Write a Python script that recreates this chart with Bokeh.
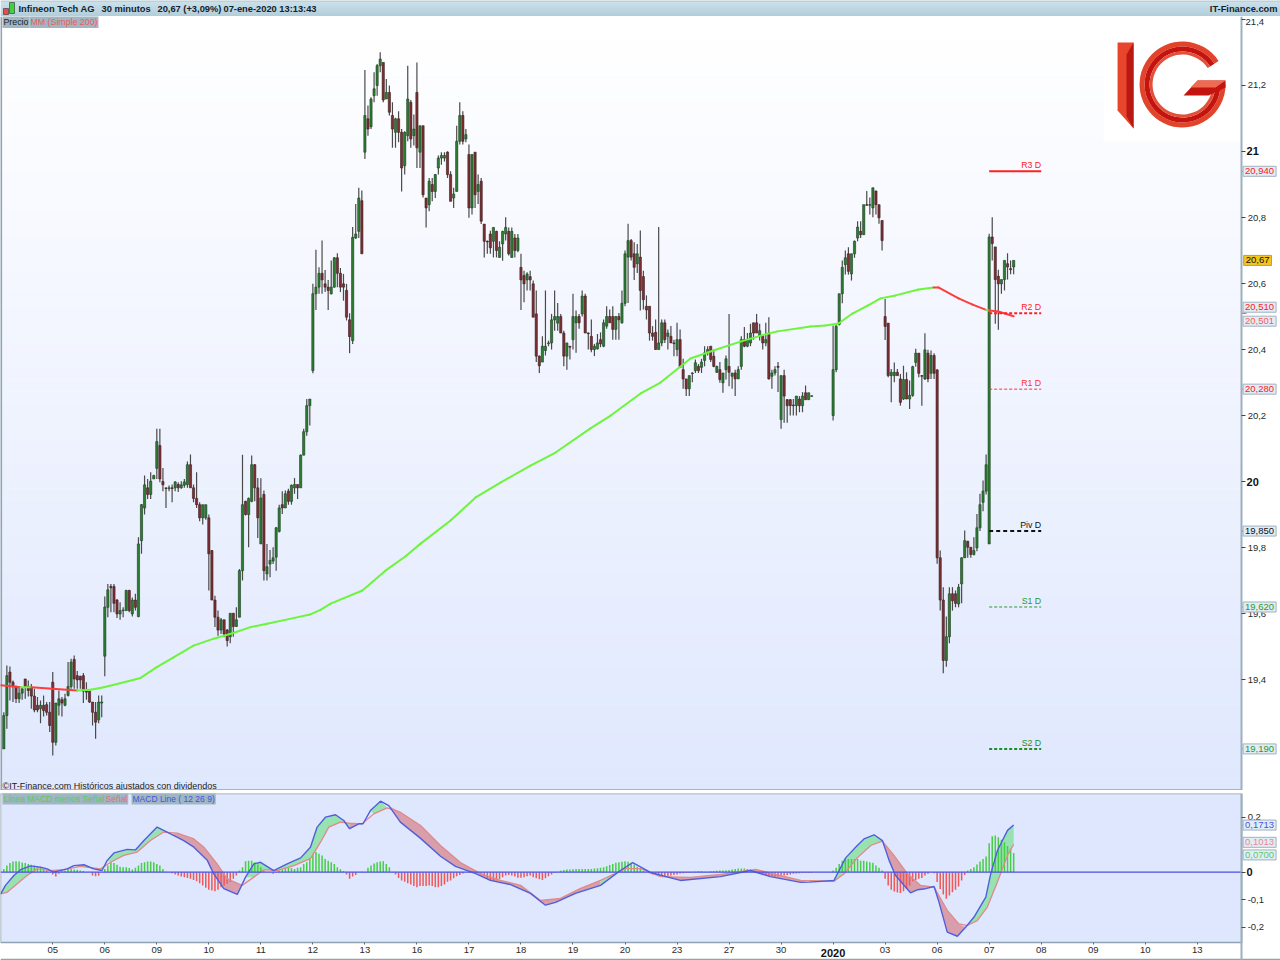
import numpy as np
from bokeh.embed import file_html
from bokeh.resources import INLINE
from bokeh.plotting import figure
from bokeh.layouts import column
from bokeh.models import ColumnDataSource, Label, FixedTicker, Range1d
from bokeh.core.properties import value

# ---------- price bars (bar number, 17 bars per session) ----------
bar_numbers = list(range(265)) + list(range(271, 331))
highs = [
19.301,19.443,19.440,19.397,19.382,19.379,19.377,19.402,19.397,19.387,
19.372,19.347,19.337,19.352,19.332,19.332,19.423,19.329,19.367,19.347,
19.357,19.453,19.463,19.473,19.426,19.412,19.420,19.392,19.365,19.332,
19.332,19.352,19.352,19.652,19.690,19.690,19.690,19.644,19.634,19.619,
19.672,19.672,19.649,19.660,19.831,19.932,20.018,20.008,20.028,20.021,
20.160,20.160,20.041,19.981,19.988,19.991,20.001,19.998,20.001,20.008,
20.061,20.082,19.991,20.028,19.937,19.930,19.930,19.900,19.793,19.654,
19.609,19.587,19.581,19.553,19.601,19.601,19.619,19.735,20.081,19.942,
19.952,20.079,20.053,20.011,20.010,19.973,19.811,19.793,19.801,19.862,
19.930,19.971,19.973,19.978,19.991,20.011,19.991,20.082,20.160,20.250,
20.250,20.599,20.702,20.649,20.730,20.641,20.611,20.670,20.680,20.692,
20.647,20.629,20.599,20.510,20.771,20.841,20.890,20.882,21.247,21.139,
21.164,21.240,21.265,21.301,21.270,21.220,21.200,21.149,21.102,21.122,
21.068,21.061,21.260,21.156,21.112,21.270,21.078,21.078,20.859,20.920,
20.920,20.932,20.988,20.998,20.998,21.001,20.940,20.890,21.078,21.149,
21.122,21.068,21.021,20.991,20.998,20.930,20.920,20.780,20.730,20.760,
20.770,20.760,20.728,20.760,20.801,20.770,20.770,20.750,20.750,20.690,
20.639,20.634,20.639,20.609,20.579,20.382,20.440,20.579,20.427,20.508,
20.579,20.541,20.508,20.457,20.420,20.410,20.569,20.518,20.508,20.579,
20.569,20.452,20.491,20.417,20.447,20.452,20.491,20.531,20.521,20.531,
20.501,20.511,20.579,20.700,20.781,20.735,20.725,20.720,20.761,20.639,
20.564,20.531,20.471,20.491,20.771,20.491,20.491,20.461,20.471,20.430,
20.481,20.461,20.372,20.311,20.321,20.331,20.370,20.356,20.372,20.410,
20.410,20.410,20.400,20.351,20.362,20.329,20.382,20.508,20.329,20.339,
20.349,20.440,20.468,20.450,20.478,20.481,20.508,20.478,20.440,20.481,
20.498,20.339,20.349,20.362,20.321,20.339,20.250,20.250,20.250,20.259,
20.259,20.271,20.291,20.269,20.261,
20.473,20.476,20.569,20.670,20.700,20.710,20.690,20.730,20.789,
20.789,20.839,20.880,20.861,20.890,20.882,20.839,20.791,20.553,20.480,
20.341,20.361,20.341,20.326,20.351,20.331,20.306,20.351,20.402,20.389,
20.323,20.449,20.399,20.397,20.389,20.341,19.791,19.680,19.591,19.680,
19.680,19.670,19.690,19.771,19.852,19.821,19.801,19.831,19.902,19.963,
20.003,20.082,20.751,20.801,20.711,20.642,20.612,20.670,20.692,20.670,20.670]
body_tops = [
19.291,19.412,19.423,19.392,19.379,19.359,19.372,19.402,19.379,19.377,
19.350,19.322,19.322,19.322,19.324,19.301,19.392,19.329,19.342,19.339,
19.342,19.379,19.453,19.461,19.412,19.410,19.412,19.365,19.365,19.332,
19.301,19.332,19.332,19.620,19.672,19.682,19.682,19.641,19.609,19.611,
19.670,19.670,19.641,19.641,19.811,19.930,19.990,19.981,20.001,20.018,
20.121,20.109,20.000,19.981,19.981,19.981,19.999,19.991,19.990,19.999,
20.051,20.051,19.981,19.949,19.930,19.930,19.930,19.890,19.791,19.641,
19.589,19.581,19.581,19.550,19.601,19.601,19.581,19.730,19.930,19.940,
19.949,20.051,20.051,19.981,19.950,19.961,19.742,19.761,19.769,19.860,
19.920,19.930,19.963,19.971,19.989,19.991,19.991,20.080,20.151,20.230,
20.250,20.569,20.589,20.631,20.631,20.599,20.589,20.589,20.678,20.678,
20.631,20.599,20.579,20.490,20.740,20.750,20.859,20.851,21.109,21.099,
21.159,21.190,21.260,21.280,21.270,21.179,21.179,21.109,21.099,21.099,
21.058,21.058,21.159,21.149,21.068,21.179,21.078,21.078,20.859,20.910,
20.900,20.930,20.980,20.988,20.988,20.998,20.930,20.871,21.031,21.109,
21.109,21.051,20.991,20.991,20.998,20.900,20.910,20.780,20.728,20.750,
20.770,20.758,20.710,20.758,20.770,20.758,20.758,20.738,20.738,20.649,
20.624,20.629,20.621,20.599,20.508,20.380,20.410,20.410,20.420,20.490,
20.500,20.500,20.500,20.450,20.420,20.410,20.500,20.500,20.500,20.562,
20.562,20.450,20.440,20.410,20.420,20.430,20.481,20.500,20.500,20.500,
20.500,20.500,20.540,20.690,20.730,20.730,20.690,20.690,20.680,20.621,
20.531,20.531,20.450,20.452,20.420,20.481,20.481,20.450,20.440,20.420,
20.430,20.430,20.339,20.311,20.321,20.329,20.360,20.349,20.362,20.390,
20.400,20.410,20.380,20.349,20.339,20.329,20.372,20.349,20.329,20.329,
20.339,20.430,20.430,20.430,20.450,20.481,20.481,20.457,20.440,20.430,
20.450,20.329,20.339,20.349,20.321,20.321,20.248,20.248,20.232,20.259,
20.250,20.259,20.269,20.269,20.260,
20.339,20.470,20.569,20.649,20.678,20.690,20.690,20.728,20.771,
20.758,20.839,20.839,20.839,20.890,20.880,20.839,20.791,20.500,20.480,
20.331,20.331,20.331,20.311,20.309,20.309,20.261,20.348,20.389,20.389,
20.321,20.399,20.389,20.382,20.382,20.338,19.769,19.641,19.530,19.660,
19.660,19.660,19.680,19.769,19.821,19.819,19.801,19.791,19.860,19.930,
19.971,20.051,20.741,20.741,20.711,20.622,20.612,20.670,20.660,20.645,20.670]
body_bottoms = [
19.190,19.291,19.392,19.379,19.342,19.342,19.359,19.379,19.367,19.350,
19.308,19.308,19.312,19.306,19.301,19.261,19.210,19.210,19.322,19.329,
19.322,19.352,19.379,19.402,19.399,19.399,19.365,19.362,19.332,19.301,
19.271,19.278,19.329,19.471,19.619,19.678,19.631,19.599,19.599,19.609,
19.609,19.609,19.599,19.619,19.591,19.821,19.920,19.961,19.961,20.008,
20.040,20.008,19.990,19.979,19.979,19.979,19.981,19.981,19.981,19.989,
19.991,19.981,19.949,19.930,19.890,19.890,19.890,19.781,19.641,19.589,
19.550,19.550,19.538,19.518,19.530,19.561,19.561,19.589,19.730,19.900,
19.900,19.940,19.981,19.890,19.811,19.730,19.720,19.750,19.759,19.771,
19.849,19.920,19.920,19.940,19.940,19.981,19.981,19.981,20.080,20.151,
20.230,20.336,20.569,20.589,20.611,20.589,20.579,20.569,20.589,20.631,
20.589,20.589,20.498,20.439,20.427,20.738,20.758,20.690,20.998,21.068,
21.075,21.169,21.200,21.260,21.156,21.159,21.119,21.068,21.058,21.058,
20.950,20.957,21.048,21.038,21.048,21.011,20.998,20.869,20.829,20.839,
20.879,20.879,20.950,20.980,20.980,20.930,20.849,20.859,20.879,21.031,
21.031,21.038,20.829,20.829,20.869,20.879,20.789,20.728,20.726,20.708,
20.728,20.700,20.679,20.720,20.750,20.690,20.679,20.700,20.700,20.611,
20.599,20.611,20.611,20.498,20.380,20.351,20.362,20.397,20.418,20.420,
20.490,20.480,20.450,20.380,20.380,20.407,20.430,20.481,20.481,20.508,
20.450,20.448,20.400,20.400,20.402,20.417,20.410,20.471,20.481,20.461,
20.461,20.490,20.481,20.540,20.680,20.680,20.649,20.660,20.579,20.551,
20.520,20.450,20.440,20.400,20.400,20.420,20.430,20.440,20.420,20.418,
20.400,20.346,20.311,20.281,20.281,20.327,20.336,20.336,20.346,20.367,
20.390,20.370,20.349,20.331,20.309,20.299,20.339,20.331,20.319,20.311,
20.311,20.349,20.410,20.410,20.420,20.450,20.450,20.440,20.420,20.420,
20.311,20.319,20.329,20.346,20.188,20.259,20.230,20.230,20.230,20.230,
20.230,20.230,20.248,20.248,20.258,
20.200,20.339,20.476,20.569,20.657,20.637,20.629,20.690,20.738,
20.748,20.748,20.837,20.837,20.829,20.839,20.799,20.730,20.470,20.321,
20.321,20.321,20.321,20.240,20.250,20.250,20.250,20.261,20.361,20.328,
20.319,20.311,20.311,20.328,20.328,19.769,19.641,19.458,19.458,19.530,
19.639,19.631,19.629,19.690,19.769,19.801,19.779,19.779,19.799,19.860,
19.937,19.971,19.811,20.721,20.612,20.599,20.599,20.612,20.650,20.642,20.650]
lows = [
19.190,19.251,19.337,19.332,19.329,19.329,19.339,19.342,19.349,19.312,
19.301,19.301,19.268,19.288,19.291,19.241,19.170,19.200,19.291,19.288,
19.319,19.349,19.372,19.372,19.372,19.372,19.329,19.339,19.329,19.261,
19.221,19.268,19.286,19.410,19.589,19.604,19.604,19.587,19.581,19.589,
19.609,19.604,19.591,19.609,19.589,19.781,19.900,19.947,19.947,20.008,
20.008,19.998,19.971,19.920,19.971,19.937,19.971,19.968,19.978,19.981,
19.981,19.981,19.937,19.920,19.880,19.870,19.884,19.670,19.641,19.559,
19.533,19.538,19.528,19.500,19.510,19.530,19.559,19.589,19.700,19.897,
19.801,19.937,19.940,19.829,19.811,19.700,19.700,19.710,19.750,19.730,
19.846,19.902,19.920,19.930,19.930,19.963,19.947,19.981,20.080,20.139,
20.170,20.328,20.520,20.569,20.569,20.574,20.520,20.567,20.587,20.589,
20.574,20.548,20.488,20.389,20.417,20.735,20.738,20.690,20.977,21.048,
21.068,21.149,21.169,21.240,21.149,21.159,21.109,21.011,21.011,21.028,
20.879,20.930,21.031,21.011,21.018,20.950,20.950,20.861,20.770,20.819,
20.849,20.859,20.930,20.960,20.970,20.920,20.849,20.829,20.879,21.021,
21.021,21.028,20.799,20.809,20.829,20.841,20.780,20.679,20.690,20.690,
20.679,20.679,20.679,20.669,20.730,20.685,20.679,20.679,20.695,20.520,
20.543,20.579,20.579,20.498,20.362,20.329,20.362,20.382,20.410,20.400,
20.457,20.457,20.450,20.349,20.339,20.370,20.400,20.390,20.463,20.500,
20.450,20.400,20.392,20.380,20.400,20.407,20.407,20.463,20.481,20.430,
20.430,20.430,20.478,20.531,20.541,20.670,20.611,20.632,20.518,20.521,
20.491,20.427,20.427,20.400,20.400,20.410,20.420,20.400,20.420,20.380,
20.380,20.346,20.281,20.259,20.259,20.301,20.329,20.329,20.329,20.349,
20.382,20.362,20.346,20.329,20.299,20.269,20.309,20.289,20.281,20.259,
20.311,20.339,20.407,20.407,20.410,20.430,20.450,20.427,20.400,20.410,
20.309,20.281,20.321,20.271,20.160,20.178,20.178,20.200,20.200,20.200,
20.210,20.210,20.248,20.248,20.258,
20.185,20.331,20.473,20.540,20.627,20.627,20.609,20.678,20.728,
20.738,20.748,20.836,20.809,20.801,20.809,20.781,20.700,20.429,20.316,
20.240,20.301,20.321,20.230,20.247,20.250,20.220,20.257,20.348,20.316,
20.230,20.308,20.301,20.311,20.311,19.751,19.609,19.419,19.439,19.510,
19.609,19.619,19.619,19.631,19.769,19.769,19.769,19.776,19.789,19.850,
19.910,19.961,19.811,20.670,20.478,20.460,20.569,20.579,20.612,20.628,20.628]
directions = (
"UUDDDUUDDD" "DDUDDDDUUD" "UUUDDDDDDD" "DUUUUDDDUU" "UDUDUUUDUU"
"UDDDUDUDUU" "UDDDDUUDDD" "DUDDUDUUUD" "UUDDUDUUUU" "UDUDUUDUUU"
"UUUUDDDUUD" "DDDDUUUDUD" "UUUUDUDDUD" "DUUDUDUDDU" "DUUUUDDUUU"
"DUDUDUDDDD" "UDUUUDUDUD" "DUDDDDUUUU" "UUDDUDUUDU" "DDDUUDUUDD"
"UDUUUDDUDD" "DDDDUUDUDD" "UDDDUUUDUU" "UDDUDUUDUD" "UUDUUDDUDU"
"DUUDUDDDDU" "DUDUU"
"UUUUUDUUU" "DUDUUDDDDD" "UUDDUDUUUD" "DUDUDDDDUU" "DDUUUDDUUU" "UUUDDDUUDDU")

# ---------- moving average (Simple 200), read at these bars ----------
ma_bars = [-1,5.5,9,24,28.3,32.7,38,44.7,50,55.6,62,68.6,75,80.6,86,95,100,103.5,106.8,117.2,124.7,131.2,
           136.2,146,154.2,162.3,172.1,180.3,191.7,198.3,208.1,214.6,224.4,231.9,240.7,249.6,252.8,263.6,
           268.5,272.8,277.3,282.3,286.5,291.4,298.9,303.8,305.4,312,316.6,321,322,325,330]
ma_values = [19.383,19.377,19.377,19.367,19.369,19.377,19.389,19.405,19.438,19.468,19.503,19.524,19.541,
             19.559,19.569,19.587,19.597,19.611,19.630,19.670,19.730,19.773,19.812,19.882,19.952,19.997,
             20.048,20.088,20.161,20.200,20.267,20.300,20.373,20.397,20.424,20.448,20.455,20.470,20.473,
             20.479,20.509,20.533,20.555,20.564,20.582,20.588,20.588,20.555,20.536,20.520,20.518,20.515,20.501]
ma_segment_up = [0,1,0] + [1] * 42 + [0,0,0,0,1,0,0]

# ---------- daily pivot levels ----------
pivot_names = ["R3 D", "R2 D", "R1 D", "Piv D", "S1 D", "S2 D"]
pivot_values = [20.94, 20.51, 20.28, 19.85, 19.62, 19.19]
pivot_colors = ["#ff2020", "#ff2020", "#ff3030", "#111111", "#2a9a2a", "#1f8f1f"]
pivot_widths = [2, 2, 1, 2, 1, 2]
pivot_dashes = ["solid", "3 2", "3 2", "4 3", "3 2", "3 2"]

# ---------- MACD panel ----------
macd_bars = [-1,0.55,3.3,5.5,8.7,12,14.2,16.3,20.7,22.9,26.2,29.4,32.1,33.8,36,40.3,43,45.8,50.1,54.5,58.8,62.1,
             66.5,68.6,71.9,76.3,79,81.7,83.9,88.2,92.6,97,100.2,102.4,105.1,108.4,111.1,113,116,117.4,119.8,
             123.1,125.8,129.6,136.2,142.7,147.6,154.2,159,165.6,172.1,177,180.3,186.8,195,201.5,205.5,211.3,
             221.1,234.2,244,250.5,260.4,263.1,271.3,275.1,278.9,281.1,284.4,287.1,289.3,291.4,296.3,298.5,
             301.2,304,305.6,308.3,311.6,314.3,317,320.9,322.5,324.7,328,330]
macd_line = [-0.079,-0.048,-0.012,0.009,0.023,0.018,0.012,0.000,0.012,0.024,0.027,0.012,0.006,0.043,0.070,0.083,
             0.081,0.115,0.164,0.139,0.115,0.091,0.043,-0.006,-0.060,-0.081,-0.018,0.030,0.036,0.006,0.030,0.052,
             0.091,0.164,0.200,0.209,0.188,0.158,0.176,0.176,0.224,0.258,0.242,0.182,0.123,0.058,0.021,-0.005,
             -0.030,-0.045,-0.077,-0.120,-0.110,-0.077,-0.048,0.006,0.035,-0.001,-0.030,-0.016,0.006,-0.016,-0.037,
             -0.036,-0.030,0.052,0.097,0.121,0.136,0.115,0.043,-0.012,-0.075,-0.064,-0.060,-0.052,-0.109,-0.218,
             -0.233,-0.200,-0.164,-0.091,-0.006,0.079,0.152,0.1713]
signal_bars = [-1,1.1,4.4,7.6,10.9,15.3,19.6,25.1,31.6,34.9,39.2,43.6,47.9,52.3,56.7,62.1,65.4,69.7,73,77.9,81.7,
               85,89.3,94.8,100.2,103.5,106.2,110,113,117.1,120.9,125.3,129.6,136.2,142.7,149.2,155.8,162.3,
               168.9,175.4,181.9,188.5,195,203.2,208.1,214.6,224.4,234.2,245.7,252.2,260.4,271.3,274.6,278.9,
               283.3,287.1,290.9,295.3,299.6,304,308.3,312.1,314.9,318.1,321.4,324.7,328,330]
signal_line = [-0.079,-0.073,-0.042,-0.012,0.012,0.006,0.009,0.021,0.012,0.036,0.061,0.073,0.115,0.146,0.142,0.121,
               0.091,0.030,-0.024,-0.048,-0.018,0.009,0.006,0.024,0.049,0.109,0.164,0.182,0.178,0.176,0.212,0.234,
               0.218,0.170,0.097,0.035,-0.005,-0.030,-0.048,-0.103,-0.095,-0.059,-0.030,0.013,0.013,-0.016,-0.019,
               -0.008,0.010,-0.008,-0.030,-0.033,-0.006,0.052,0.097,0.113,0.061,-0.006,-0.048,-0.054,-0.139,-0.188,
               -0.194,-0.176,-0.127,-0.036,0.061,0.1013]
band_from = [-1,11,21,33,54.5,78.5,113,118,125.5,195,208,271,287.1,314.5]
band_to = [11,21,33,54.5,78.5,113,118,125.5,195,208,271,287.1,314.5,330]
band_macd_above = [1,0,1,1,0,1,0,1,0,1,0,1,0,1]
histogram = [
.012,.024,.033,.039,.04,.039,.035,.033,.03,.027,.024,.02,.018,.012,.006,0,-.008,-.016,-.006,.004,
.006,.012,.012,.01,.009,.006,.004,0,0,-.012,-.015,-.013,0,.012,.024,.036,.033,.027,.02,.018,
.018,.015,.01,.016,.024,.033,.036,.039,.039,.036,.03,.024,.012,.002,0,-.004,-.008,-.012,-.016,-.018,
-.021,-.024,-.028,-.033,-.04,-.048,-.057,-.064,-.067,-.069,-.064,-.055,-.048,-.042,-.036,-.024,-.012,.006,.018,.04,
.042,.042,.036,.028,.018,.006,.002,0,-.006,0,.006,.01,.016,.017,.015,.012,.016,.018,.03,.036,
.052,.067,.073,.067,.061,.048,.042,.036,.03,.018,.011,.004,-.008,-.024,-.016,-.01,0,.002,-.002,.016,
.024,.032,.036,.039,.04,.03,.018,.002,-.008,-.021,-.03,-.035,-.04,-.045,-.05,-.055,-.05,-.05,-.05,-.048,
-.05,-.055,-.055,-.05,-.045,-.035,-.03,-.022,-.015,-.01,-.005,
0,.002,.003,.001,-.003,-.008,-.014,-.022,-.028,-.032,-.03,-.025,-.018,-.012,-.01,-.012,-.016,-.02,-.02,-.018,
-.015,-.012,-.018,-.022,-.026,-.028,-.022,-.015,-.008,-.003,.002,.005,.008,.01,.01,.011,.012,.012,.012,.012,
.012,.012,.013,.014,.016,.018,.022,.026,.03,.034,.036,.038,.04,.038,.034,.028,.02,.012,.005,0,
-.004,-.008,-.01,-.012,-.014,-.015,-.014,-.012,-.01,-.008,-.005,-.004,-.003,-.002,.001,.002,.003,.003,.002,.002,
.003,.004,.005,.006,.006,.007,.008,.01,.012,.013,.013,.013,.012,.01,.006,.003,-.002,-.006,-.01,-.012,
-.014,-.016,-.016,-.014,-.012,-.01,-.008,-.006,-.005,-.004,-.003,-.003,-.003,-.002,
.006,.016,.03,.042,.048,.048,.048,.048,.048,.042,.042,.039,.036,.034,.024,.016,.006,
-.024,-.048,-.064,-.07,-.074,-.076,-.069,-.061,-.048,-.033,-.028,-.024,-.021,-.012,-.006,0,-.004,
-.036,-.061,-.081,-.097,-.085,-.073,-.064,-.052,-.03,-.01,.006,.012,.018,.028,.039,.048,.057,
.105,.131,.133,.127,.118,.109,.095,.085,.07]

# ---------- texts ----------
price_ticks = [19.4, 19.6, 19.8, 20, 20.2, 20.4, 20.6, 20.8, 21, 21.2, 21.4]
macd_ticks = [-0.2, -0.1, 0, 0.2]
session_labels = ["05","06","09","10","11","12","13","16","17","18","19","20","23","27","30","2020","03","06","07","08","09","10","13"]
session_bars = [16,33,50,67,84,101,118,135,152,169,186,203,220,237,254,271,288,305,322,339,356,373,390]

FONT = "Liberation Sans"
AXIS_COLOR = "#9db0bb"
EDGE = "#8fa4b0"
TEXT_COLOR = "#2a2a2a"
LEGEND_BG = "#9fb6c3"
BAR_X0, BAR_X1, BAR_XE = -1.078, 404.5, 417.2
P0, P1 = 19.064, 21.409
M0, M1, ME = -0.2556, 0.2861, -0.3211
HDR_H, PRICE_H, MACD_TOP, MACD_H = 16, 774, 3, 167


def xr(px):   # overlay helpers: picture pixel to bar number / price / MACD value
    return (px - 3.3) / 3.06


def yr(py):
    return 20 + (481 - py) / 330


def ym(py):
    return M1 - (py - 793) / 275


def label(p, x, y, text, size="9.5px", color=TEXT_COLOR, align="left", style="normal", bg=None, border=None, pad=0, yoff=0):
    p.add_layout(Label(x=x, y=y, text=text, text_font=FONT, text_font_size=size,
                       text_color=color, text_align=align, text_baseline="middle", text_font_style=style,
                       background_fill_color=bg, border_line_color=border, padding=pad, y_offset=yoff))


def mix(a, b, t):
    return "#%02x%02x%02x" % tuple(int(round(a[i] + (b[i] - a[i]) * t)) for i in range(3))


def base_fig(h, fh, x_range, y_range, **kw):
    p = figure(width=1280, height=h, frame_width=1280, frame_height=fh, x_range=x_range, y_range=y_range,
               toolbar_location=None, output_backend="svg", min_border_left=0, min_border_right=0,
               min_border_top=kw.pop("top", 0), min_border_bottom=0,
               background_fill_color="white", border_fill_color="white", **kw)
    p.grid.visible = False
    p.outline_line_color = None
    return p


def style_y(ax, labels):
    ax.ticker = FixedTicker(ticks=list(labels))
    ax.major_label_overrides = labels
    ax.major_label_text_font = FONT
    ax.major_label_text_font_size = "9.5px"
    ax.major_label_text_color = TEXT_COLOR
    ax.major_label_standoff = 2
    ax.major_tick_in = 0
    ax.major_tick_out = 4
    ax.minor_tick_line_color = None
    ax.axis_line_color = AXIS_COLOR
    ax.axis_line_width = 2
    ax.major_tick_line_color = "#444444"
    ax.fixed_location = BAR_X1


# ---------- header ----------
hdr = base_fig(HDR_H, HDR_H, Range1d(0, 1280), Range1d(HDR_H, 0), x_axis_type=None, y_axis_type=None)
steps = np.arange(HDR_H)
hdr.quad(left=0, right=1280, top=steps, bottom=steps + 1,
         fill_color=["#7c98a8" if s == 0 else mix((186, 216, 230), (154, 190, 206), s / (HDR_H - 1)) for s in steps],
         line_color=None)
hdr.quad(left=[3, 9], right=[8, 14], top=[8, 2], bottom=[14, 13], fill_color=["#f04848", "#40d040"], line_color="#333333", line_width=0.6)
for x, txt in [(18, "Infineon Tech AG"), (101, "30 minutos"), (157, "20,67 (+3,09%)"), (223, "07-ene-2020 13:13:43")]:
    hdr.text(x=[x], y=[8.5], text=[txt], text_font=value(FONT), text_font_size="9.3px", text_font_style="bold",
             text_baseline="middle", text_color="#13222c")
hdr.text(x=[1277], y=[8.5], text=["IT-Finance.com"], text_font=value(FONT), text_font_size="9.3px", text_font_style="bold",
         text_baseline="middle", text_align="right", text_color="#13222c")

# ---------- price panel ----------
price = base_fig(PRICE_H, PRICE_H, Range1d(BAR_X0, BAR_XE), Range1d(P0, P1), x_axis_type=None, y_axis_location="right")
levels = np.linspace(P1, P0, 65)
grad = [mix((255, 255, 255), (224, 232, 254), i / 63) for i in range(64)]
price.quad(left=BAR_X0, right=BAR_X1, top=levels[:-1], bottom=levels[1:], fill_color=grad, line_color=grad, line_width=0.5)
price.line([BAR_X0 + 0.2, BAR_X0 + 0.2], [P0, P1], line_color=EDGE, line_width=2)
price.line([BAR_X0, BAR_X1], [yr(789.5), yr(789.5)], line_color=EDGE, line_width=1.5)

# logo (pictorial mark on its white plate)
price.quad(left=xr(1103), right=xr(1240), top=yr(36), bottom=yr(141), fill_color="white", line_color=None)
price.patch(x=[xr(v) for v in (1117, 1133, 1133, 1117)], y=[yr(v) for v in (42, 42, 128, 110)], fill_color="#e8452c", line_color=None)
price.patch(x=[xr(v) for v in (1126, 1133, 1133, 1126)], y=[yr(v) for v in (54, 42, 128, 116)], fill_color="#b81712", line_color=None)
for r0, r1, col in [(38, 43, "#e2432b"), (33, 38, "#c4140f"), (30, 33, "#e2503a")]:
    price.annular_wedge(x=[xr(1182)], y=[yr(84)], inner_radius=r0, outer_radius=r1,
                        inner_radius_units="screen", outer_radius_units="screen",
                        start_angle=0.58, end_angle=6.28, fill_color=col, line_color=None)
price.patch(x=[xr(v) for v in (1225, 1197, 1183, 1208, 1225)], y=[yr(v) for v in (80, 80, 95, 95, 87)], fill_color="#c4140f", line_color=None)
price.patch(x=[xr(v) for v in (1225, 1197, 1190, 1215)], y=[yr(v) for v in (80, 80, 87, 87)], fill_color="#ee6a50", line_color=None)

up = [d == "U" for d in directions]
src = ColumnDataSource(dict(
    x=bar_numbers, hi=highs, lo=lows, top=body_tops, bot=body_bottoms,
    fill=["#2c7d32" if u else "#7d2f33" for u in up],
    line=["#1d3f20" if u else "#3d1c1e" for u in up]))
price.segment(x0="x", x1="x", y0="lo", y1="hi", source=src, line_color="#4a4a4a", line_width=1.2)
price.vbar(x="x", width=0.72, top="top", bottom="bot", source=src, fill_color="fill", line_color="line", line_width=0.6)

for i in range(len(ma_bars) - 1):
    price.line(ma_bars[i:i + 2], ma_values[i:i + 2], line_color="#6cf53a" if ma_segment_up[i] else "#ff3c3c",
               line_width=2, line_cap="round")

for v, c, w, d in zip(pivot_values, pivot_colors, pivot_widths, pivot_dashes):
    price.segment(x0=[322], x1=[339], y0=[v], y1=[v], line_color=c, line_width=w, line_dash=d)
    price.segment(x0=[BAR_X1], x1=[xr(1246)], y0=[v], y1=[v], line_color=c, line_width=1)
for n, v, c in zip(pivot_names, pivot_values, pivot_colors):
    label(price, 339, v, n, size="8.8px", color=c, align="right", yoff=6)

ax = price.yaxis[0]
labels = {t: ("%.1f" % t).replace(".", ",") for t in price_ticks}
labels[20] = ""
labels[21] = ""
labels[21.4] = ""
style_y(ax, labels)
label(price, xr(1245), 21.4, "21,4", yoff=-3)
label(price, xr(1246), 21, "21", size="11px", style="bold", color="#111111")
label(price, xr(1246), 20, "20", size="11px", style="bold", color="#111111")

BOX_BG, BOX_EDGE = "#e2ecf6", "#9fb2c0"
for v, txt, col, off in [(20.94, "20,940", "#ff2020", 0), (20.51, "20,510", "#ff2020", 6), (20.501, "20,501", "#ff5a5a", -5),
                         (20.28, "20,280", "#ff2020", 0), (19.85, "19,850", "#111111", 0), (19.62, "19,620", "#2a9a2a", 0),
                         (19.19, "19,190", "#2a9a2a", 0)]:
    label(price, xr(1259), v, txt, color=col, align="center", bg=BOX_BG, border=BOX_EDGE, pad=2, yoff=off)
label(price, xr(1257), 20.67, "20,67", color="#111111", align="center", bg="#f4c51a", border="#a8a070", pad=2)

label(price, xr(2), yr(21.5), "Precio", size="8.8px", color="#222222", bg=LEGEND_BG, pad=1)
label(price, xr(29), yr(21.5), "MM (Simple 200)", size="8.8px", color="#f05a5a", bg=LEGEND_BG, pad=1)
label(price, xr(2), yr(785), "©IT-Finance.com  Históricos ajustados con dividendos", size="9px", color="#222222")

# ---------- MACD panel ----------
macd = base_fig(MACD_TOP + MACD_H, MACD_H, price.x_range, Range1d(ME, M1), y_axis_location="right", top=MACD_TOP)
macd.quad(left=BAR_X0, right=BAR_X1, top=M1, bottom=M0, fill_color="#dfe7fe", line_color=EDGE, line_width=1.5)
macd.line([BAR_X0, BAR_XE], [ME + 0.003, ME + 0.003], line_color=EDGE, line_width=2)

hsrc = ColumnDataSource(dict(x=bar_numbers, v=histogram, c=["#46cf46" if h >= 0 else "#ee5a5a" for h in histogram]))
macd_arr, signal_arr = np.array(macd_line), np.array(signal_line)
mb, sb = np.array(macd_bars), np.array(signal_bars)
for a, b, above in zip(band_from, band_to, band_macd_above):
    m = (mb >= a) & (mb <= b)
    s = (sb >= a) & (sb <= b)
    xs = list(mb[m]) + list(sb[s][::-1])
    ys = list(macd_arr[m]) + list(signal_arr[s][::-1])
    if len(xs) >= 3:
        macd.patch(xs, ys, fill_color="#93e0ac" if above else "#d79aa6", fill_alpha=0.95, line_color=None)
macd.vbar(x="x", width=0.5, top="v", bottom=0, source=hsrc, fill_color="c", line_color=None)
macd.line(signal_bars, signal_line, line_color="#e08a8a", line_width=1.3)
macd.line(macd_bars, macd_line, line_color="#4f5fdc", line_width=1.4)
macd.line([BAR_X0, BAR_X1], [0, 0], line_color="#4a50e0", line_width=1.2)

ax = macd.yaxis[0]
labels = {t: ("%.1f" % t).replace(".", ",") for t in macd_ticks}
labels[0] = ""
style_y(ax, labels)
label(macd, xr(1246), 0, "0", size="11px", style="bold", color="#111111")
for v, txt, col, off in [(0.1713, "0,1713", "#4a55e0", 0), (0.1013, "0,1013", "#e88a8a", 2), (0.07, "0,0700", "#55cc66", -2)]:
    macd.segment(x0=[BAR_X1], x1=[xr(1246)], y0=[v], y1=[v], line_color=col, line_width=1)
    label(macd, xr(1259), v, txt, color=col, align="center", bg=BOX_BG, border=BOX_EDGE, pad=2, yoff=off)

label(macd, xr(2), ym(798), "Línea MACD menos Señal", size="8.5px", color="#58cc58", bg=LEGEND_BG, pad=1)
label(macd, xr(104), ym(798), "Señal", size="8.5px", color="#e07070", bg=LEGEND_BG, pad=1)
label(macd, xr(131), ym(798), "MACD Line ( 12 26 9)", size="8.5px", color="#4455dd", bg=LEGEND_BG, pad=1)

xa = macd.xaxis[0]
xa.fixed_location = M0
xa.ticker = FixedTicker(ticks=session_bars)
xa.major_label_overrides = {b: ("" if t == "2020" else t) for b, t in zip(session_bars, session_labels)}
xa.major_label_text_font = FONT
xa.major_label_text_font_size = "9.5px"
xa.major_label_text_color = TEXT_COLOR
xa.major_label_standoff = 3
xa.major_tick_in = 0
xa.major_tick_out = 2
xa.minor_tick_line_color = None
xa.axis_line_color = None
xa.major_tick_line_color = "#666666"
for b, t in zip(session_bars, session_labels):
    if t == "2020":
        label(macd, b, ym(952.5), t, size="11px", style="bold", color="#111111", align="center")

page = column(hdr, price, macd, spacing=0)
open("out.html", "w").write(file_html(page, INLINE))
